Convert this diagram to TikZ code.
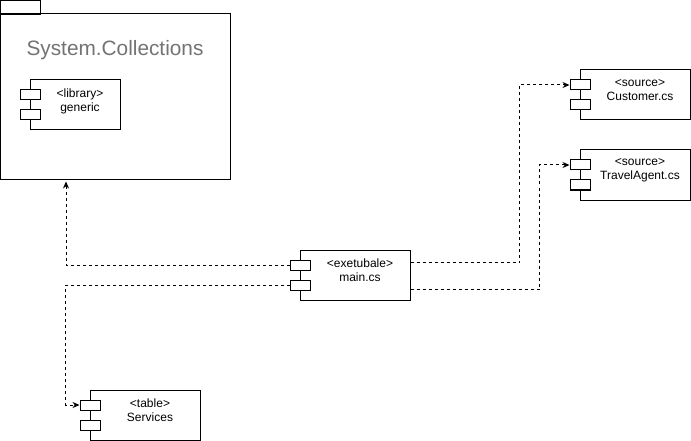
\documentclass[tikz,border=0pt]{standalone}
\usepackage{fontspec}
\setmainfont{Liberation Sans}
\usepackage{tikz}
\usetikzlibrary{positioning, arrows.meta, calc}
\newcommand{\titlecolor}{black!55}
\newcommand{\compfill}{white}

\begin{document}
\begin{tikzpicture}[
      % GLOBAL CFG
      x=1pt, y=-1pt,
      font=\fontsize{12}{14}\selectfont,
      line width=1pt,
      % Styles
      pkgbox/.style={% For the package
        rectangle,
        draw,
        inner sep=0pt
      },
      comp/.style={% For component bodies
        rectangle,
        draw,
        fill=\compfill,
        minimum width=110pt,
        minimum height=50pt,
        inner sep=0pt
      },
      port/.style={% For the small port boxes
        rectangle,
        draw,
        fill=\compfill,
        minimum width=20pt,
        minimum height=10pt,
        inner sep=0pt
      },
      txt/.style={% For component labels
        align=center,
        inner sep=0pt
      },
      dep/.style={% Dashed dependency arrows
        dash pattern=on 3pt off 3pt,
        -{Stealth[length=7pt,width=6pt]}
      }
      ]
      \useasboundingbox (0,0) rectangle (691,441);

      % The package
      \node [pkgbox, minimum width=40pt, minimum height=14pt] (pkgtab) at (20.5,7.5){};
      \node [pkgbox, minimum width=230pt, minimum height=166pt] (pkg) at (115.5,97){};
      \node [txt, text=\titlecolor, font=\fontsize{20.8}{24}\selectfont] (pkgtitle) at (115,50){System.Collections};

      % Components
      \node [comp, minimum width=90pt] (lib) at (75,105){};
      \node [port] (libport1) at (30,95){};
      \node [port] (libport2) at (30,115){};
      \node [txt] (libtext) at (80,101){<library>\\generic};

      \node [comp] (main) at (355,275){};
      \node [port] (mainport1) at (300,265){};
      \node [port] (mainport2) at (300,285){};
      \node [txt] (maintext) at (360,270.5){<exetubale>\\main.cs};

      \node [comp] (cust) at (635,95){};
      \node [port] (custport1) at (580,85){};
      \node [port] (custport2) at (580,105){};
      \node [txt] (custtext) at (640,90.5){<source>\\Customer.cs};

      \node [comp] (trav) at (635,175){};
      \node [port] (travport1) at (580,165){};
      \node [port] (travport2) at (580,185){};
      \node [txt] (travtext) at (640,170.5){<source>\\TravelAgent.cs};

      \node [comp] (svc) at (145,415){};
      \node [port] (svcport1) at (90,405){};
      \node [port] (svcport2) at (90,425){};
      \node [txt] (svctext) at (150,410.5){<table>\\Services};

      % Dependencies
      \draw [dep] (mainport1.west) -| ($(pkg.south west)+(66,1)$);
      \draw [dep] (mainport2.west) -| ($(svcport1.west)+(-14,0)$) -- (svcport1.west);
      \draw [dep] ($(main.north east)+(0,13)$) -| ($(custport1.west)+(-50,0)$) -- (custport1.west);
      \draw [dep] ($(main.north east)+(0,40)$) -| ($(travport1.west)+(-30,0)$) -- (travport1.west);
    \end{tikzpicture}
\end{document}
